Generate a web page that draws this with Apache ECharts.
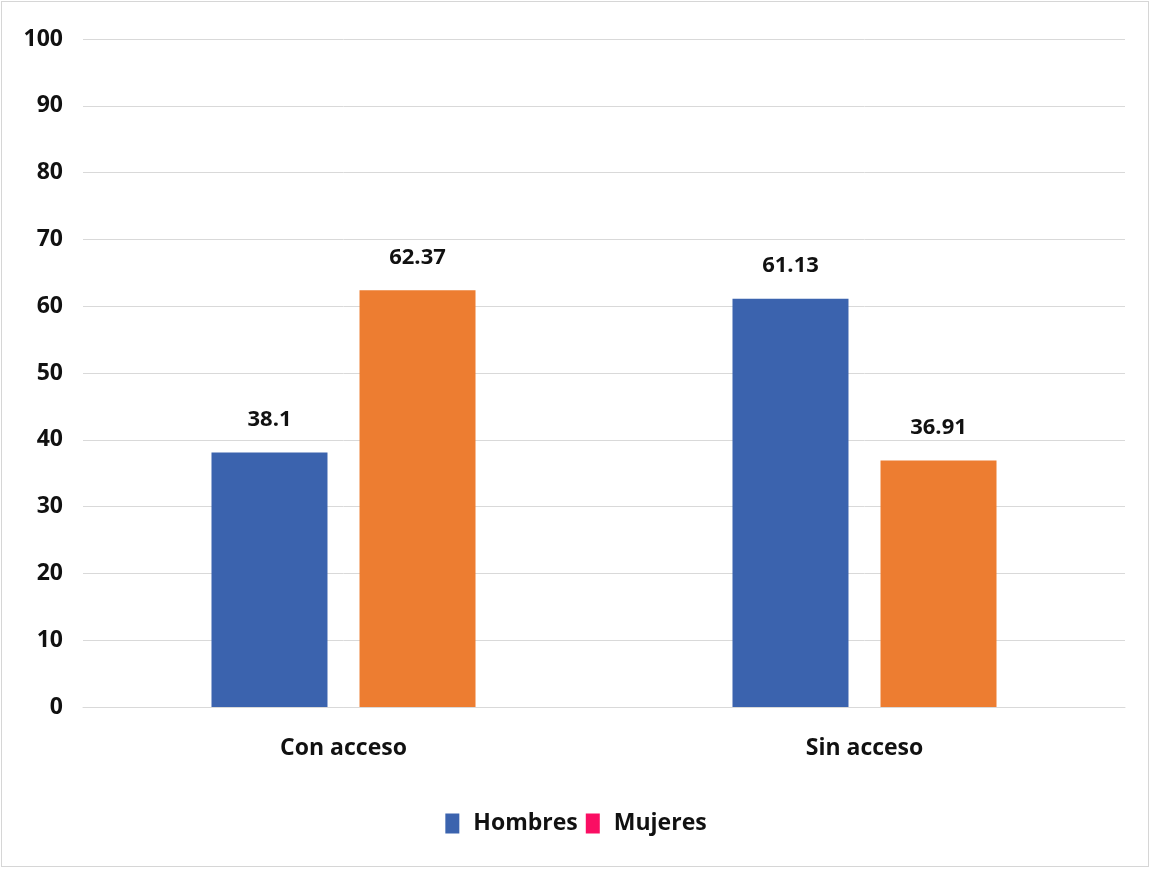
<!DOCTYPE html>
<html><head><meta charset="utf-8">
<script src="https://cdn.jsdelivr.net/npm/echarts@6/dist/echarts.min.js"></script>
<style>
html,body{margin:0;padding:0;background:#fff;}
#frame{position:absolute;left:1px;top:1px;width:1146px;height:864px;border:1px solid #d6d6d6;}
#c{position:absolute;left:0;top:0;width:1152px;height:870px;}
</style></head>
<body>
<div id="frame"></div>
<div id="c"></div>
<script>
const categories = ['Con acceso', 'Sin acceso'];
const hombres = [38.1, 61.13];
const mujeres = [62.37, 36.91];
const yTicks = {min: 0, max: 100, interval: 10};

const FONT = '"Open Sans", "Noto Sans", sans-serif';
const chart = echarts.init(document.getElementById('c'), null, {renderer: 'canvas'});
const labelStyle = {show: true, position: 'top', distance: 22, color: '#111', fontSize: 22, fontWeight: 'bold', fontFamily: FONT};
chart.setOption({
  animation: false,
  grid: {left: 83, right: 27, top: 39, bottom: 163},
  legend: {
    bottom: 30, left: 'center', icon: 'rect', itemWidth: 14, itemHeight: 20, itemGap: 8,
    textStyle: {fontSize: 23, fontWeight: 'bold', color: '#111', fontFamily: FONT, padding: [0, 0, 0, 9]},
    data: [
      {name: 'Hombres', itemStyle: {color: '#3B63AE'}},
      {name: 'Mujeres', itemStyle: {color: '#FA0E63'}}
    ]
  },
  xAxis: {
    type: 'category', data: categories,
    axisLine: {lineStyle: {color: '#d9d9d9', width: 1}},
    axisTick: {show: false},
    axisLabel: {fontSize: 23, fontWeight: 'bold', color: '#111', margin: 30, fontFamily: FONT}
  },
  yAxis: {
    type: 'value', min: yTicks.min, max: yTicks.max, interval: yTicks.interval,
    axisLine: {show: false}, axisTick: {show: false},
    splitLine: {lineStyle: {color: '#d9d9d9', width: 1}},
    axisLabel: {fontSize: 23, fontWeight: 'bold', color: '#111', margin: 20, fontFamily: FONT}
  },
  series: [
    {name: 'Hombres', type: 'bar', data: hombres, barWidth: 116, barGap: '27.6%',
     itemStyle: {color: '#3B63AE'}, label: labelStyle},
    {name: 'Mujeres', type: 'bar', data: mujeres, barWidth: 116,
     itemStyle: {color: '#ED7D31'}, label: labelStyle}
  ]
});
</script>
</body></html>
